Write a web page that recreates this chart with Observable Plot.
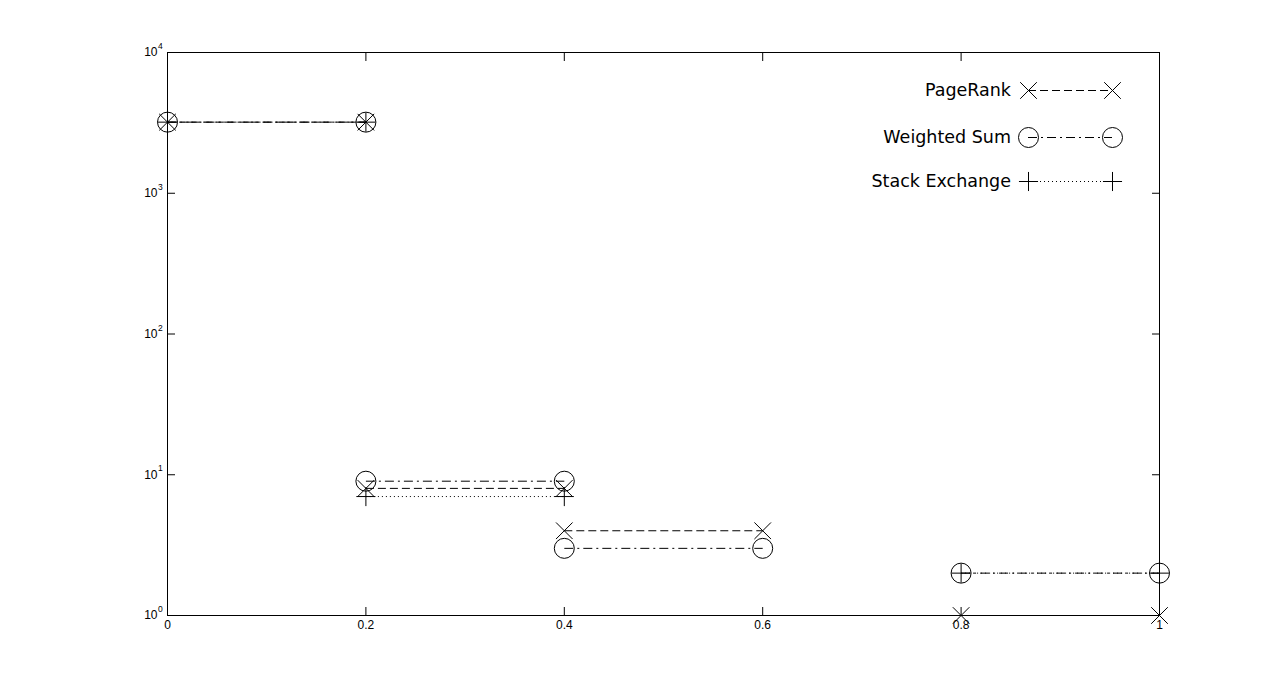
<!DOCTYPE html>
<html><head><meta charset="utf-8">
<script src="https://cdn.jsdelivr.net/npm/d3@7"></script>
<script src="https://cdn.jsdelivr.net/npm/@observablehq/plot@0.6"></script>
<style>
html,body{margin:0;padding:0;background:#fff;}
#wrap{position:relative;width:1281px;height:691px;overflow:hidden;}
#wrap svg{display:block;}
#legend{position:absolute;left:0;top:0;pointer-events:none;}
</style></head><body><div id="wrap"></div>
<script>
// ---- data ----
const binStarts = [0, 0.2, 0.4, 0.6, 0.8];
const binEnds = [0.2, 0.4, 0.6, 0.8, 1];
const pageRank = [3200, 8, 4, 0, 1];
const weightedSum = [3200, 9, 3, 0, 2];
const stackExchange = [3200, 7, 0, 0, 2];
const seriesNames = ["PageRank", "Weighted Sum", "Stack Exchange"];
const xTicks = [0, 0.2, 0.4, 0.6, 0.8, 1];
const xTickLabels = ["0", "0.2", "0.4", "0.6", "0.8", "1"];
const yTicks = [1, 10, 100, 1000, 10000];
const yExponents = ["0", "1", "2", "3", "4"];

// ---- styles ----
const seriesValues = {"PageRank": pageRank, "Weighted Sum": weightedSum, "Stack Exchange": stackExchange};
const seriesStyle = {
  "PageRank": {symbol: "times", r: 7.6, dash: "8,4"},
  "Weighted Sum": {symbol: "circle", r: 10, dash: "9,4,2,4"},
  "Stack Exchange": {symbol: "plus", r: 6.2, dash: "1,3"}
};

const segs = [];
const pts = [];
for (const s of seriesNames) {
  seriesValues[s].forEach((v, i) => {
    if (v > 0) {
      segs.push({series: s, x1: binStarts[i], x2: binEnds[i], y: v});
      pts.push({series: s, x: binStarts[i], y: v});
      pts.push({series: s, x: binEnds[i], y: v});
    }
  });
}

const marks = [];
for (const s of seriesNames) {
  const st = seriesStyle[s];
  marks.push(Plot.link(segs.filter(d => d.series === s), {
    x1: "x1", x2: "x2", y1: "y", y2: "y", stroke: "#000", strokeWidth: 1,
    strokeDasharray: st.dash
  }));
}
for (const s of seriesNames) {
  const st = seriesStyle[s];
  marks.push(Plot.dot(pts.filter(d => d.series === s), {
    x: "x", y: "y", symbol: st.symbol, r: st.r, stroke: "#000", fill: "none", strokeWidth: 1
  }));
}

const chart = Plot.plot({
  width: 1281, height: 691,
  marginLeft: 167, marginRight: 122, marginTop: 52, marginBottom: 76,
  style: {background: "#fff", fontFamily: "'Liberation Sans', Arial, sans-serif", color: "#000"},
  x: {domain: [0, 1]},
  y: {type: "log", domain: [1, 10000]},
  marks: [
    Plot.axisX(xTicks, {anchor: "bottom", tickSize: -8, tickFormat: () => "", label: null, stroke: "#000"}),
    Plot.axisX(xTicks, {anchor: "top", tickSize: -8, tickFormat: () => "", label: null, stroke: "#000"}),
    Plot.axisY(yTicks, {anchor: "left", tickSize: -8, tickFormat: () => "", label: null, stroke: "#000"}),
    Plot.axisY(yTicks, {anchor: "right", tickSize: -8, tickFormat: () => "", label: null, stroke: "#000"}),
    Plot.frame({stroke: "#000", strokeWidth: 1}),
    Plot.text(xTicks, {x: d => d, frameAnchor: "bottom", text: (d, i) => xTickLabels[i], lineAnchor: "top", dy: 5, fontSize: 12, fill: "#000"}),
    Plot.text(yTicks, {y: d => d, frameAnchor: "left", text: () => "10", textAnchor: "end", dx: -10, dy: 0, fontSize: 12, fill: "#000"}),
    Plot.text(yTicks, {y: d => d, frameAnchor: "left", text: (d, i) => yExponents[i], textAnchor: "start", dx: -9.5, dy: -6, fontSize: 8.5, fill: "#000"}),
    ...marks
  ]
});
const wrap = document.getElementById("wrap");
wrap.appendChild(chart);

// ---- legend (overlay inside the plot area) ----
const legendRows = [
  {name: "PageRank", y: 90},
  {name: "Weighted Sum", y: 137},
  {name: "Stack Exchange", y: 181}
];
const lx0 = 1028, lx1 = 1112, ltext = 1011;
const lg = d3.create("svg").attr("id", "legend").attr("width", 1281).attr("height", 691);
for (const row of legendRows) {
  const st = seriesStyle[row.name];
  lg.append("text").attr("x", ltext).attr("y", row.y).attr("text-anchor", "end")
    .attr("dominant-baseline", "central")
    .attr("font-family", "'DejaVu Sans', sans-serif").attr("font-size", 17.5).attr("fill", "#000")
    .text(row.name);
  lg.append("line").attr("x1", lx0).attr("x2", lx1).attr("y1", row.y + 0.5).attr("y2", row.y + 0.5)
    .attr("stroke", "#000").attr("stroke-dasharray", st.dash);
  const sym = d3.symbol().type({times: d3.symbolTimes, circle: d3.symbolCircle, plus: d3.symbolPlus}[st.symbol])
    .size(st.r * st.r * Math.PI);
  for (const cx of [lx0, lx1]) {
    lg.append("path").attr("d", sym()).attr("transform", `translate(${cx + 0.5},${row.y + 0.5})`)
      .attr("fill", "none").attr("stroke", "#000");
  }
}
wrap.appendChild(lg.node());
</script>
</body></html>
